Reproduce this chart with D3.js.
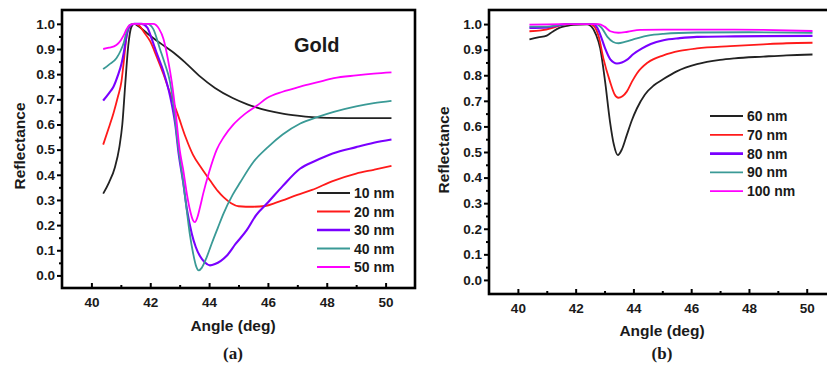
<!DOCTYPE html>
<html>
<head>
<meta charset="utf-8">
<script src="https://cdn.jsdelivr.net/npm/d3@7/dist/d3.min.js"></script>
<style>
  html, body { margin: 0; padding: 0; background: #fff; }
  svg { display: block; }
  text { font-family: "Liberation Sans", Arial, sans-serif; font-weight: bold; fill: #1a1a1a; }
</style>
</head>
<body>
<svg id="chart" width="827" height="367"></svg>
<script>
// ---- Panel (a): gold films 10–50 nm, reflectance vs angle ----
const gold10 = [[40.4,0.325],[40.6,0.37],[40.8,0.43],[40.95,0.51],[41.05,0.6],[41.15,0.76],[41.25,0.91],[41.35,0.985],[41.45,1.0],[41.6,0.99],[41.9,0.962],[42.2,0.935],[42.5,0.91],[42.8,0.885],[43.2,0.845],[43.7,0.79],[44.2,0.745],[44.8,0.705],[45.3,0.68],[45.6,0.668],[46.0,0.655],[46.5,0.643],[47.0,0.635],[47.5,0.629],[48.0,0.626],[49.0,0.625],[50.2,0.625]];
const gold20 = [[40.4,0.52],[40.6,0.59],[40.75,0.645],[40.9,0.71],[41.02,0.77],[41.1,0.85],[41.2,0.955],[41.3,0.99],[41.45,1.0],[41.6,0.995],[41.8,0.965],[42.0,0.93],[42.2,0.875],[42.45,0.8],[42.7,0.715],[42.95,0.635],[43.2,0.55],[43.45,0.48],[43.75,0.425],[44.05,0.375],[44.3,0.335],[44.5,0.31],[44.75,0.287],[45.0,0.275],[45.5,0.273],[45.9,0.276],[46.3,0.29],[47.0,0.32],[47.5,0.34],[48.2,0.375],[49.0,0.405],[49.6,0.42],[50.2,0.435]];
const gold30 = [[40.4,0.695],[40.6,0.725],[40.75,0.75],[40.9,0.795],[41.02,0.84],[41.1,0.885],[41.2,0.955],[41.3,0.99],[41.45,1.0],[41.7,1.0],[41.9,0.985],[42.05,0.94],[42.2,0.89],[42.45,0.81],[42.67,0.715],[42.85,0.6],[42.97,0.48],[43.12,0.37],[43.25,0.26],[43.41,0.167],[43.55,0.112],[43.7,0.075],[43.85,0.052],[44.03,0.04],[44.2,0.045],[44.4,0.058],[44.6,0.078],[44.9,0.125],[45.28,0.18],[45.6,0.24],[46.0,0.29],[46.5,0.355],[47.1,0.425],[47.6,0.455],[48.2,0.485],[49.0,0.51],[49.6,0.527],[50.2,0.54]];
const gold40 = [[40.4,0.82],[40.6,0.838],[40.85,0.863],[41.0,0.895],[41.1,0.925],[41.2,0.97],[41.3,0.995],[41.45,1.0],[41.9,1.0],[42.1,0.98],[42.33,0.9],[42.5,0.84],[42.67,0.77],[42.8,0.67],[42.9,0.56],[43.0,0.47],[43.12,0.37],[43.24,0.26],[43.35,0.16],[43.46,0.086],[43.55,0.04],[43.65,0.02],[43.75,0.03],[43.92,0.073],[44.1,0.13],[44.3,0.19],[44.49,0.246],[44.8,0.32],[45.06,0.37],[45.5,0.45],[46.0,0.51],[46.5,0.56],[47.1,0.604],[47.7,0.63],[48.24,0.65],[49.0,0.672],[49.6,0.685],[50.2,0.694]];
const gold50 = [[40.4,0.9],[40.6,0.905],[40.85,0.916],[41.0,0.935],[41.1,0.955],[41.2,0.98],[41.3,0.995],[41.45,1.0],[42.1,1.0],[42.3,0.98],[42.45,0.94],[42.6,0.86],[42.73,0.77],[42.87,0.64],[43.0,0.5],[43.12,0.42],[43.25,0.32],[43.35,0.26],[43.45,0.22],[43.52,0.212],[43.6,0.23],[43.7,0.275],[43.8,0.325],[44.0,0.41],[44.26,0.5],[44.5,0.55],[44.83,0.6],[45.2,0.64],[45.63,0.675],[45.97,0.705],[46.5,0.73],[47.1,0.75],[47.7,0.768],[48.24,0.784],[49.0,0.795],[49.6,0.802],[50.2,0.807]];

// ---- Panel (b): thicker films 60–100 nm ----
const film60 = [[40.4,0.94],[40.7,0.948],[41.0,0.955],[41.2,0.97],[41.45,0.986],[41.7,0.993],[41.92,0.997],[42.4,0.999],[42.55,0.99],[42.7,0.96],[42.85,0.905],[43.02,0.775],[43.19,0.618],[43.32,0.53],[43.46,0.488],[43.6,0.51],[43.77,0.566],[43.95,0.625],[44.12,0.67],[44.4,0.725],[44.7,0.76],[45.04,0.785],[45.5,0.815],[46.2,0.843],[47.0,0.86],[47.5,0.866],[48.5,0.873],[49.3,0.878],[50.2,0.881]];
const film70 = [[40.4,0.972],[40.8,0.975],[41.2,0.985],[41.5,0.996],[41.8,1.0],[42.5,1.0],[42.65,0.99],[42.8,0.95],[42.96,0.866],[43.19,0.775],[43.35,0.725],[43.48,0.712],[43.62,0.718],[43.77,0.736],[43.95,0.775],[44.12,0.807],[44.5,0.85],[45.04,0.878],[45.6,0.895],[46.2,0.905],[47.35,0.914],[48.5,0.921],[49.3,0.925],[50.2,0.927]];
const film80 = [[40.4,0.985],[41.0,0.987],[41.4,0.995],[41.7,1.0],[42.6,1.0],[42.75,0.985],[42.88,0.95],[43.02,0.905],[43.2,0.862],[43.43,0.846],[43.6,0.85],[43.77,0.86],[44.0,0.883],[44.3,0.905],[44.6,0.922],[45.04,0.937],[45.6,0.945],[46.2,0.95],[47.5,0.952],[50.2,0.954]];
const film90 = [[40.4,0.99],[41.0,0.99],[41.5,0.998],[41.8,1.0],[42.7,1.0],[42.9,0.985],[43.1,0.95],[43.3,0.93],[43.48,0.925],[43.7,0.93],[44.12,0.944],[44.5,0.955],[45.04,0.962],[46.2,0.967],[48.0,0.968],[50.2,0.966]];
const film100 = [[40.4,0.998],[41.5,1.0],[42.8,1.0],[43.0,0.99],[43.2,0.972],[43.48,0.966],[43.8,0.97],[44.23,0.977],[45.04,0.978],[47.5,0.978],[48.5,0.977],[50.2,0.973]];

// Labels, ticks and colours
const labelsA = ["10 nm", "20 nm", "30 nm", "40 nm", "50 nm"];
const labelsB = ["60 nm", "70 nm", "80 nm", "90 nm", "100 nm"];
const colors = ["#222222", "#ff1a1a", "#7a00ff", "#3a9a96", "#ff00ff"];
const xTicks = [40, 42, 44, 46, 48, 50];
const xMinor = [41, 43, 45, 47, 49];
const yTicks = [0, 0.1, 0.2, 0.3, 0.4, 0.5, 0.6, 0.7, 0.8, 0.9, 1.0];
const yMinor = [0.05, 0.15, 0.25, 0.35, 0.45, 0.55, 0.65, 0.75, 0.85, 0.95];

const svg = d3.select("#chart");
svg.append("rect").attr("width", 827).attr("height", 367).attr("fill", "#fff");

function panel(opts) {
  const g = svg.append("g");
  const x = d3.scaleLinear().domain([39, 51]).range([opts.left, opts.right]);
  const y = d3.scaleLinear().domain(opts.yDomain).range([opts.bottom, opts.top]);

  // curves
  const line = d3.line().x(d => x(d[0])).y(d => y(d[1])).curve(d3.curveMonotoneX);
  opts.series.forEach((s, i) => {
    g.append("path").datum(s).attr("d", line)
      .attr("fill", "none").attr("stroke", colors[i])
      .attr("stroke-width", i === 2 ? 2.1 : 1.8).attr("stroke-linejoin", "round");
  });

  // bottom axis, ticks pointing inward
  g.append("g").attr("transform", `translate(0,${opts.bottom})`)
    .call(d3.axisBottom(x).tickValues(xTicks).tickSizeInner(-5).tickSizeOuter(0).tickPadding(9).tickFormat(d3.format("d")));
  g.append("g").attr("transform", `translate(0,${opts.bottom})`)
    .call(d3.axisBottom(x).tickValues(xMinor).tickSizeInner(-3).tickSizeOuter(0).tickFormat(""));

  // left axis, ticks pointing outward
  g.append("g").attr("transform", `translate(${opts.left},0)`)
    .call(d3.axisLeft(y).tickValues(yTicks).tickSizeInner(5).tickSizeOuter(0).tickPadding(2).tickFormat(d3.format(".1f")));
  g.append("g").attr("transform", `translate(${opts.left},0)`)
    .call(d3.axisLeft(y).tickValues(yMinor).tickSizeInner(3).tickSizeOuter(0).tickFormat(""));

  g.selectAll(".domain").remove();
  g.selectAll(".tick line").attr("stroke", "#000").attr("stroke-width", 2);
  g.selectAll(".tick text").style("font-size", "13.5px").attr("fill", "#1a1a1a")
    .style("font-family", "'Liberation Sans', Arial, sans-serif").style("font-weight", "bold");

  // frame
  g.append("rect").attr("x", opts.left).attr("y", opts.top)
    .attr("width", opts.right - opts.left).attr("height", opts.bottom - opts.top)
    .attr("fill", "none").attr("stroke", "#000").attr("stroke-width", 2.6);

  // axis titles
  g.append("text").attr("transform", `translate(${opts.yTitleX},${opts.yTitleY}) rotate(-90)`)
    .attr("text-anchor", "middle").style("font-size", "15.5px").text("Reflectance");
  g.append("text").attr("x", opts.xTitleX).attr("y", opts.xTitleY)
    .attr("text-anchor", "middle").style("font-size", "15.5px").text("Angle (deg)");
  g.append("text").attr("x", opts.xTitleX).attr("y", opts.tagY)
    .attr("text-anchor", "middle").style("font-family", "'Liberation Serif', 'Times New Roman', serif")
    .style("font-size", "17px").text(opts.tag);

  // legend
  opts.labels.forEach((lab, i) => {
    const cy = opts.legendY + i * opts.legendStep;
    g.append("line").attr("x1", opts.legendX).attr("x2", opts.legendX + 33)
      .attr("y1", cy).attr("y2", cy).attr("stroke", colors[i]).attr("stroke-width", i === 2 ? 2.6 : 1.8);
    g.append("text").attr("x", opts.legendX + 37).attr("y", cy + 5)
      .style("font-size", "14px").text(lab);
  });
  return g;
}

const ga = panel({
  left: 62, right: 415, top: 10, bottom: 288, yDomain: [-0.05, 1.055],
  series: [gold10, gold20, gold30, gold40, gold50], labels: labelsA,
  yTitleX: 25, yTitleY: 146, xTitleX: 233, xTitleY: 331, tag: "(a)", tagY: 359,
  legendX: 317, legendY: 193, legendStep: 18.5
});
ga.append("text").attr("x", 294).attr("y", 52).style("font-size", "20px").text("Gold");

panel({
  left: 489, right: 835.6, top: 10, bottom: 294, yDomain: [-0.055, 1.055],
  series: [film60, film70, film80, film90, film100], labels: labelsB,
  yTitleX: 449, yTitleY: 150, xTitleX: 662, xTitleY: 336, tag: "(b)", tagY: 359,
  legendX: 710, legendY: 116, legendStep: 18.8
});
</script>
</body>
</html>
